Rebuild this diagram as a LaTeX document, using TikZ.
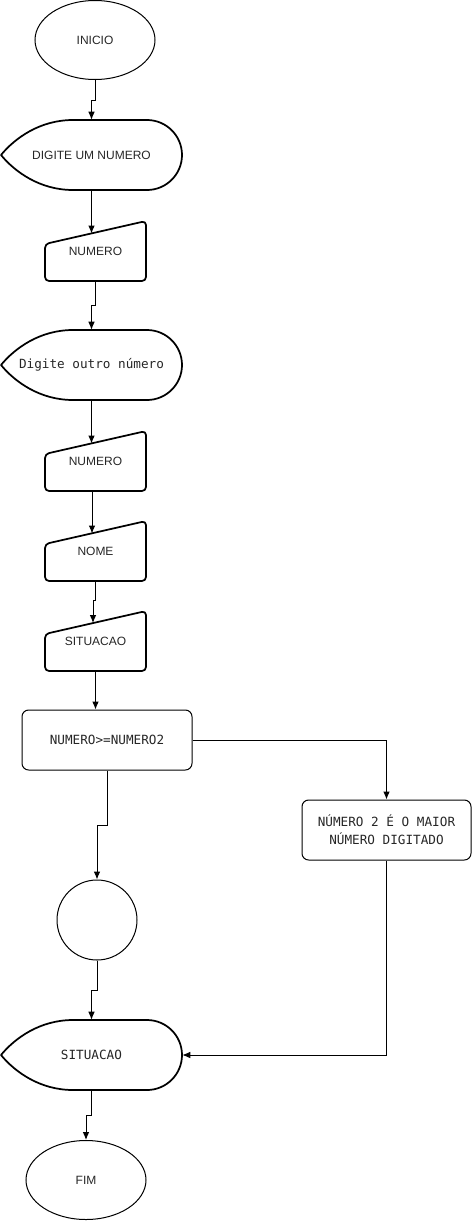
\documentclass[tikz,border=0pt]{standalone}
\usepackage{fontspec}
\usetikzlibrary{shapes.geometric,arrows.meta}
\newfontfamily\sansf{Liberation Sans}
\newfontfamily\monof{DejaVu Sans Mono}

\begin{document}
\begin{tikzpicture}[x=0.75pt,y=-0.75pt,
    every node/.style={text=black!85,inner sep=0pt},
    term/.style={ellipse,draw,line width=0.75pt,minimum width=90pt,minimum height=59.25pt,font=\sansf\fontsize{9pt}{11pt}\selectfont},
    disp/.style={rectangle,minimum width=135.75pt,minimum height=52.5pt,font=\sansf\fontsize{9pt}{11pt}\selectfont},
    mono/.style={font=\monof\fontsize{9.5pt}{13.5pt}\selectfont},
    manin/.style={rectangle,minimum width=75.75pt,minimum height=45pt,font=\sansf\fontsize{9pt}{11pt}\selectfont},
    proc/.style={rectangle,draw,rounded corners=5pt,line width=0.75pt,minimum height=45pt,mono},
    jump/.style={circle,draw,line width=0.75pt,minimum size=60pt},
    outl/.style={line width=1.3pt,line join=round},
    flow/.style={-{Latex[length=6pt,width=5pt]},line width=0.75pt}]
    \useasboundingbox (0,0) rectangle (472,1221);

    % blocos
    \node[term] (inicio) at (95,40) {INICIO};
    \node[disp] (disp1) at (91.5,155) {DIGITE UM NUMERO};
    \node[manin] (num1) at (95.5,251) {NUMERO};
    \node[disp,mono] (disp2) at (91.5,365) {Digite outro número};
    \node[manin] (num2) at (95.5,461) {NUMERO};
    \node[manin] (nome) at (95.5,551) {NOME};
    \node[manin] (situacao) at (95.5,641) {SITUACAO};
    \node[proc,minimum width=127.5pt] (teste) at (107,740) {NUMERO>=NUMERO2};
    \node[proc,minimum width=126.75pt,align=center] (maior) at (386.5,830) {NÚMERO 2 É O MAIOR\\NÚMERO DIGITADO};
    \node[jump] (juncao) at (97,920) {};
    \node[disp,mono] (saida) at (91.5,1055) {SITUACAO};
    \node[term] (fim) at (86,1180) {FIM};

    % contornos das telas e entradas manuais
    \foreach \y in {120,330,1020}
        \draw[outl] (1,\y+35) .. controls (15,\y+18) and (40,\y) .. (73,\y) -- (147,\y)
            .. controls (166.3,\y) and (182,\y+15.7) .. (182,\y+35)
            .. controls (182,\y+54.3) and (166.3,\y+70) .. (147,\y+70) -- (73,\y+70)
            .. controls (40,\y+70) and (15,\y+52) .. (1,\y+35) -- cycle;
    \foreach \y in {221,431,521,611}
        \draw[outl,rounded corners=3pt] (45,\y+60) -- (45,\y+23) -- (146,\y) -- (146,\y+60) -- cycle;

    \coordinate (num1-in) at (91.5,233.5);
    \coordinate (num2-in) at (91.5,443.5);
    \coordinate (nome-in) at (92,533.5);
    \coordinate (sit-in) at (93,623);

    % ligacoes
    \draw[flow] (inicio.south) -- ++(0,20) -| (disp1.north);
    \draw[flow] (disp1.south) -- (num1-in);
    \draw[flow] (num1.south) -- ++(0,24) -| (disp2.north);
    \draw[flow] (disp2.south) -- (num2-in);
    \draw[flow] (nome-in |- num2.south) -- (nome-in);
    \draw[flow] (nome.south) -- ++(0,19) -| (sit-in);
    \draw[flow] (situacao.south) -- (situacao.south |- teste.north);
    \draw[flow] (teste.east) -| (maior.north);
    \draw[flow] (teste.south) -- ++(0,55) -| (juncao.north);
    \draw[flow] (juncao.south) -- ++(0,30) -| (saida.north);
    \draw[flow] (maior.south) |- (saida.east);
    \draw[flow] (saida.south) -- ++(0,25) -| (fim.north);
\end{tikzpicture}
\end{document}
